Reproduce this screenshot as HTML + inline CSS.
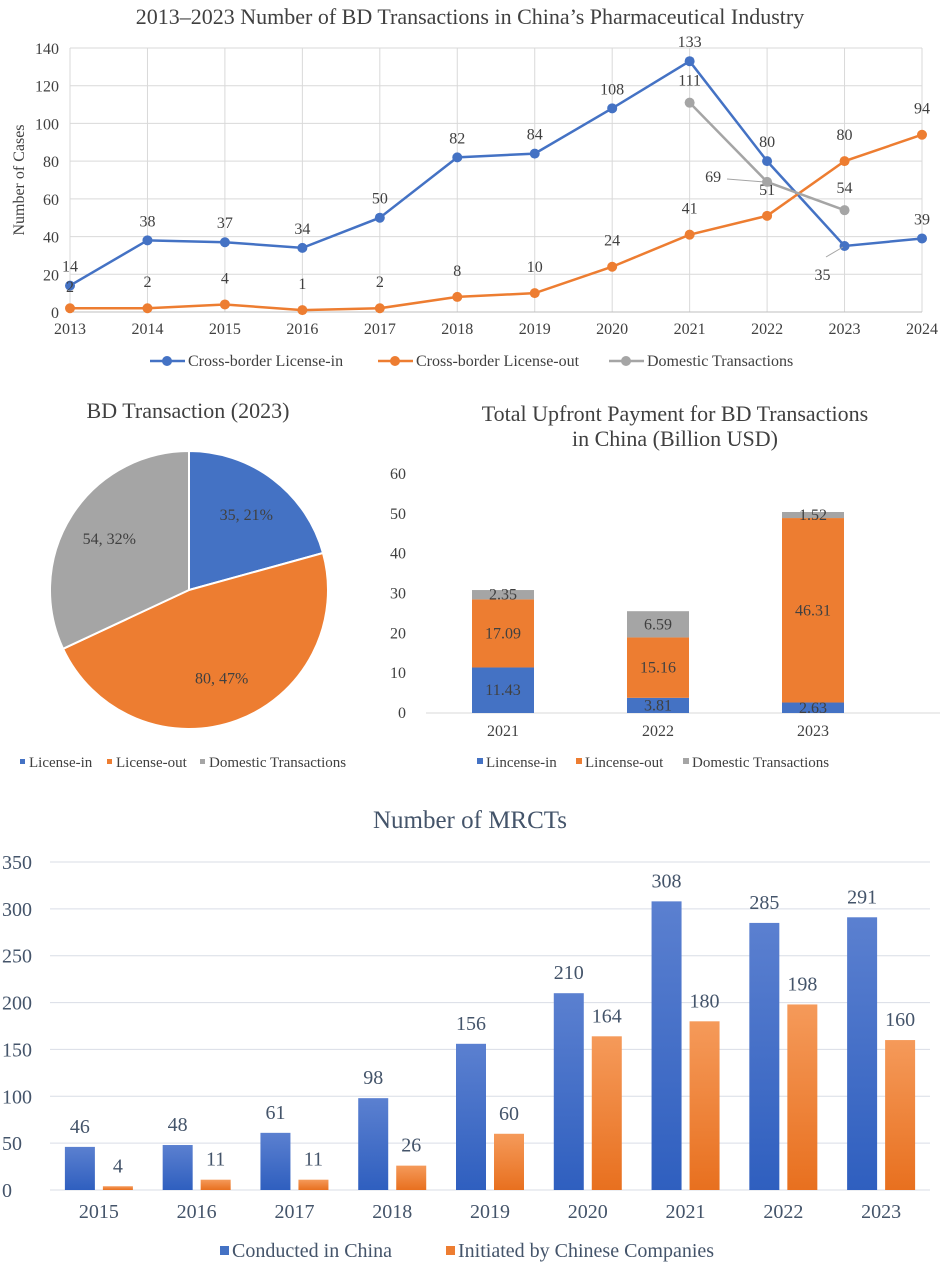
<!DOCTYPE html>
<html><head><meta charset="utf-8"><style>
body{margin:0;background:#fff;}
svg{display:block;font-family:"Liberation Serif","DejaVu Serif",serif;}
text{font-family:"Liberation Serif","DejaVu Serif",serif;}
</style></head><body>
<svg width="941" height="1268" viewBox="0 0 941 1268">
<defs>
<linearGradient id="gb" x1="0" y1="0" x2="0" y2="1"><stop offset="0" stop-color="#5b80d0"/><stop offset="1" stop-color="#2f5fbf"/></linearGradient>
<linearGradient id="go" x1="0" y1="0" x2="0" y2="1"><stop offset="0" stop-color="#f59a5a"/><stop offset="1" stop-color="#e8701f"/></linearGradient>
</defs>
<g id="line"></g>
<g id="pie"></g>
<g id="stack"></g>
<g id="mrct"></g>
</svg>
<script>
// ---- line chart data
const lineYears=[2013,2014,2015,2016,2017,2018,2019,2020,2021,2022,2023,2024];
const licenseIn=[14,38,37,34,50,82,84,108,133,80,35,39];
const licenseOut=[2,2,4,1,2,8,10,24,41,51,80,94];
const domesticYears=[2021,2022,2023];
const domestic=[111,69,54];
const lineTicks=[0,20,40,60,80,100,120,140];
// ---- pie data
const pieLabels=["License-in","License-out","Domestic Transactions"];
const pieValues=[35,80,54];
// ---- stacked data
const stackYears=["2021","2022","2023"];
const upIn=[11.43,3.81,2.63];
const upOut=[17.09,15.16,46.31];
const upDom=[2.35,6.59,1.52];
const stackTicks=[0,10,20,30,40,50,60];
// ---- MRCT data
const mrctYears=["2015","2016","2017","2018","2019","2020","2021","2022","2023"];
const conducted=[46,48,61,98,156,210,308,285,291];
const initiated=[4,11,11,26,60,164,180,198,160];
const mrctTicks=[0,50,100,150,200,250,300,350];

const NS="http://www.w3.org/2000/svg";
const FF='"Liberation Serif","DejaVu Serif",serif';
function mk(parent,tag,attrs,text){const e=document.createElementNS(NS,tag);for(const k in attrs)e.setAttribute(k,attrs[k]);if(tag==='text')e.setAttribute('font-family',FF);if(text!==undefined)e.textContent=text;parent.appendChild(e);return e;}
const BLUE="#4472c4",ORANGE="#ed7d31",GRAY="#a5a5a5";

// ===== Line chart
(function(){
const g=document.getElementById('line');
const x=yr=>70+(yr-2013)*(922-70)/11;
const y=v=>312-v*(312-48)/140;
let t=mk(g,'text',{x:470,y:24,'text-anchor':'middle','font-size':22,fill:'#404040'},"2013–2023 Number of BD Transactions in China’s Pharmaceutical Industry");

lineTicks.forEach(v=>{let l=mk(g,'line',{x1:70,x2:922,y1:y(v),y2:y(v),stroke:'#d9d9d9'});
let tt=mk(g,'text',{x:59,y:y(v)+6,'text-anchor':'end','font-size':16,fill:'#404040'},v);});
lineYears.forEach(yr=>{let l=mk(g,'line',{x1:x(yr),x2:x(yr),y1:48,y2:312,stroke:'#d9d9d9'});
let tt=mk(g,'text',{x:x(yr),y:334,'text-anchor':'middle','font-size':16,fill:'#404040'},yr);});
mk(g,'line',{x1:70,x2:922,y1:312,y2:312,stroke:'#bfbfbf'});
t=mk(g,'text',{x:24,y:180,'text-anchor':'middle','font-size':16,fill:'#404040',transform:'rotate(-90 24 180)'},"Number of Cases");

function series(xs,vals,col,name,labOff){
 let p=mk(g,'polyline',{points:xs.map((yr,i)=>x(yr)+','+y(vals[i])).join(' '),fill:'none',stroke:col,'stroke-width':2.5});
 
 xs.forEach((yr,i)=>{let c=mk(g,'circle',{cx:x(yr),cy:y(vals[i]),r:5,fill:col});
  const o=labOff(i);let tt=mk(g,'text',{x:x(yr)+o[0],y:y(vals[i])+o[1],'text-anchor':'middle','font-size':16,fill:'#404040'},vals[i]);});
}
series(lineYears,licenseIn,BLUE,'license-in',i=>i===10?[-22,34]:[0,-14]);
series(lineYears,licenseOut,ORANGE,'license-out',i=>i===0?[0,-16]:[0,-21]);
series(domesticYears,domestic,GRAY,'domestic',i=>i===1?[-54,0]:i===2?[0,-17]:[0,-17]);
mk(g,'line',{x1:727,x2:765,y1:179,y2:182,stroke:'#a5a5a5'});
mk(g,'line',{x1:826,x2:843,y1:257,y2:247,stroke:'#a5a5a5'});
const leg=[["Cross-border License-in",BLUE,150],["Cross-border License-out",ORANGE,378],["Domestic Transactions",GRAY,609]];
leg.forEach(l=>{let gg=mk(g,'g',{});
mk(gg,'line',{x1:l[2],x2:l[2]+35,y1:361,y2:361,stroke:l[1],'stroke-width':2.5});mk(gg,'circle',{cx:l[2]+17,cy:361,r:5,fill:l[1]});
mk(gg,'text',{x:l[2]+38,y:366,'font-size':16,fill:'#404040'},l[0]);});
})();

// ===== Pie
(function(){
const g=document.getElementById('pie');
let t=mk(g,'text',{x:188,y:418,'text-anchor':'middle','font-size':22,fill:'#404040'},"BD Transaction (2023)");

const cx=189,cy=590,r=139,cols=[BLUE,ORANGE,GRAY];
const tot=pieValues.reduce((a,b)=>a+b,0);let a0=-Math.PI/2;
pieValues.forEach((v,i)=>{const a1=a0+v/tot*2*Math.PI;const lg=(a1-a0)>Math.PI?1:0;
 let p=mk(g,'path',{d:`M${cx},${cy} L${cx+r*Math.cos(a0)},${cy+r*Math.sin(a0)} A${r},${r} 0 ${lg} 1 ${cx+r*Math.cos(a1)},${cy+r*Math.sin(a1)} Z`,fill:cols[i],stroke:'#fff','stroke-width':2});
 
 const am=(a0+a1)/2,lr=r*0.68;
 let tt=mk(g,'text',{x:cx+lr*Math.cos(am),y:cy+lr*Math.sin(am)+5,'text-anchor':'middle','font-size':16,fill:'#404040'},v+", "+Math.round(v/tot*100)+"%");
 
 a0=a1;});
const lx=[20,107,200];
pieLabels.forEach((l,i)=>{let gg=mk(g,'g',{});
 mk(gg,'rect',{x:lx[i],y:759,width:5,height:5,fill:cols[i]});mk(gg,'text',{x:lx[i]+9,y:767,'font-size':15,fill:'#404040'},l);});
})();

// ===== Stacked
(function(){
const g=document.getElementById('stack');
let t=mk(g,'text',{x:675,y:421,'text-anchor':'middle','font-size':22,fill:'#404040'},"Total Upfront Payment for BD Transactions");

mk(g,'text',{x:675,y:446,'text-anchor':'middle','font-size':22,fill:'#404040'},"in China (Billion USD)");
const y=v=>713-v*(713-474)/60;
const cxs=i=>503+i*155,bw=62;
stackTicks.forEach(v=>{let tt=mk(g,'text',{x:406,y:y(v)+5,'text-anchor':'end','font-size':16,fill:'#404040'},v);});
mk(g,'line',{x1:426,x2:940,y1:713,y2:713,stroke:'#d9d9d9'});
stackYears.forEach((yr,i)=>{
 let base=0;[[upIn,BLUE,'license-in'],[upOut,ORANGE,'license-out'],[upDom,GRAY,'domestic']].forEach(s=>{
  const v=s[0][i];let r=mk(g,'rect',{x:cxs(i)-bw/2,y:y(base+v),width:bw,height:y(base)-y(base+v),fill:s[1]});
  
  let tt=mk(g,'text',{x:cxs(i),y:(y(base)+y(base+v))/2+5,'text-anchor':'middle','font-size':16,fill:'#404040'},v.toFixed(2));
  
  base+=v;});
 let tt=mk(g,'text',{x:cxs(i),y:736,'text-anchor':'middle','font-size':16,fill:'#404040'},yr);
});
const leg=[["Lincense-in",BLUE,477],["Lincense-out",ORANGE,576],["Domestic Transactions",GRAY,683]];
leg.forEach(l=>{let gg=mk(g,'g',{});
 mk(gg,'rect',{x:l[2],y:758,width:6,height:6,fill:l[1]});mk(gg,'text',{x:l[2]+9,y:767,'font-size':15,fill:'#404040'},l[0]);});
})();

// ===== MRCT
(function(){
const g=document.getElementById('mrct');
const C='#44546a';
let t=mk(g,'text',{x:470,y:828,'text-anchor':'middle','font-size':25,fill:C},"Number of MRCTs");

const y=v=>1190-v*(1190-862)/350;
const x0=50,x1=930,step=(x1-x0)/mrctYears.length,bw=30;
mrctTicks.forEach(v=>{let l=mk(g,'line',{x1:x0,x2:x1,y1:y(v),y2:y(v),stroke:'#d9dde6','stroke-width':1});
 let tt=mk(g,'text',{x:2,y:y(v)+7,'font-size':20,fill:C},v);});
mrctYears.forEach((yr,i)=>{const c=x0+step*(i+0.5);
 let r=mk(g,'rect',{x:c-bw-4,y:y(conducted[i]),width:bw,height:y(0)-y(conducted[i]),fill:'url(#gb)'});
 r=mk(g,'rect',{x:c+4,y:y(initiated[i]),width:bw,height:y(0)-y(initiated[i]),fill:'url(#go)'});
 let tt=mk(g,'text',{x:c-bw/2-4,y:y(conducted[i])-14,'text-anchor':'middle','font-size':20,fill:C},conducted[i]);
 tt=mk(g,'text',{x:c+bw/2+4,y:y(initiated[i])-14,'text-anchor':'middle','font-size':20,fill:C},initiated[i]);
 tt=mk(g,'text',{x:c,y:1218,'text-anchor':'middle','font-size':20,fill:C},yr);
});
const leg=[["Conducted in China",'#4472c4',220],["Initiated by Chinese Companies",ORANGE,446]];
leg.forEach(l=>{let gg=mk(g,'g',{});
 mk(gg,'rect',{x:l[2],y:1246,width:9,height:9,fill:l[1]});mk(gg,'text',{x:l[2]+12,y:1257,'font-size':20,fill:C},l[0]);});
})();
</script>
</body></html>
